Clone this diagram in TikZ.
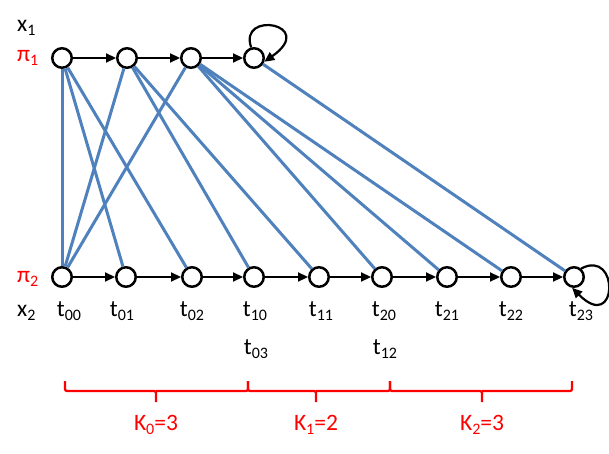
\documentclass[tikz,border=0pt]{standalone}
\usepackage{fontspec}
\setmainfont{Carlito}
\usetikzlibrary{arrows.meta}
\newcommand{\sbs}[1]{\raisebox{-4pt}{\fontsize{16}{16}\selectfont #1}}
\definecolor{lineblue}{RGB}{79,129,189}
\begin{document}
\begin{tikzpicture}[x=1pt,y=-1pt,
  st/.style={circle,draw=black,line width=2.5pt,fill=white,minimum size=19.5pt,inner sep=0pt},
  lbl/.style={font=\fontsize{23.5}{27}\selectfont,inner sep=0pt,anchor=base},
  rlbl/.style={lbl,text=red},
  arr/.style={-{Triangle[length=10pt,width=9pt]},line width=2.2pt,black},
  blu/.style={lineblue,line width=3pt},
  brk/.style={red,line width=2.3pt,rounded corners=2pt}]
\useasboundingbox (0,0) rectangle (609,454);
% states
\node[st] (a0) at (62,58) {};
\node[st] (a1) at (127,58) {};
\node[st] (a2) at (191,58) {};
\node[st] (a3) at (254,58) {};
\node[st] (b00) at (62,277) {};
\node[st] (b01) at (126,277) {};
\node[st] (b02) at (192,277) {};
\node[st] (b10) at (254,277) {};
\node[st] (b11) at (319,277) {};
\node[st] (b20) at (382,277) {};
\node[st] (b21) at (447,277) {};
\node[st] (b22) at (511,277) {};
\node[st] (b23) at (574,277) {};
% blue links
\draw[blu] (a0) -- (b00);
\draw[blu] (a0) -- (b01);
\draw[blu] (a0) -- (b02);
\draw[blu] (a1) -- (b00);
\draw[blu] (a1) -- (b10);
\draw[blu] (a1) -- (b11);
\draw[blu] (a2) -- (b00);
\draw[blu] (a2) -- (b20);
\draw[blu] (a2) -- (b21);
\draw[blu] (a2) -- (b22);
\draw[blu] (a3) -- (b23);
% chains
\draw[arr] (a0) -- (a1);
\draw[arr] (a1) -- (a2);
\draw[arr] (a2) -- (a3);
\draw[arr] (a3.105) .. controls (238,10) and (318,24) .. (a3.-20);
\draw[arr] (b00) -- (b01);
\draw[arr] (b01) -- (b02);
\draw[arr] (b02) -- (b10);
\draw[arr] (b10) -- (b11);
\draw[arr] (b11) -- (b20);
\draw[arr] (b20) -- (b21);
\draw[arr] (b21) -- (b22);
\draw[arr] (b22) -- (b23);
\draw[arr] (b23.50) .. controls (620,248) and (618,334) .. (b23.-100);
% side labels
\node[lbl,anchor=base west] (lx1) at (17,32) {x\sbs{1}};
\node[rlbl,anchor=base west] (lp1) at (17,62) {π\sbs{1}};
\node[rlbl,anchor=base west] (lp2) at (17,282) {π\sbs{2}};
\node[lbl,anchor=base west] (lx2) at (17,316) {x\sbs{2}};
% phase labels
\node[lbl] (l00) at (69,316) {t\sbs{00}};
\node[lbl] (l01) at (122,316) {t\sbs{01}};
\node[lbl] (l02) at (192,316) {t\sbs{02}};
\node[lbl] (l10) at (255,316) {t\sbs{10}};
\node[lbl] (l11) at (321,316) {t\sbs{11}};
\node[lbl] (l20) at (384,316) {t\sbs{20}};
\node[lbl] (l21) at (447,316) {t\sbs{21}};
\node[lbl] (l22) at (511,316) {t\sbs{22}};
\node[lbl] (l23) at (581,316) {t\sbs{23}};
\node[lbl] (l03) at (256,354) {t\sbs{03}};
\node[lbl] (l12) at (385,354) {t\sbs{12}};
% brackets
\draw[brk] (65,381) |- (156,391) -- (156,402);
\draw[brk] (156,391) -| (248,381);
\draw[brk] (248,381) |- (316,391) -- (316,402);
\draw[brk] (316,391) -| (390,381);
\draw[brk] (390,381) |- (482,391) -- (482,402);
\draw[brk] (482,391) -| (572,381);
\node[rlbl] (k0) at (156,430) {K\sbs{0}=3};
\node[rlbl] (k1) at (316,430) {K\sbs{1}=2};
\node[rlbl] (k2) at (482,430) {K\sbs{2}=3};
\end{tikzpicture}
\end{document}
